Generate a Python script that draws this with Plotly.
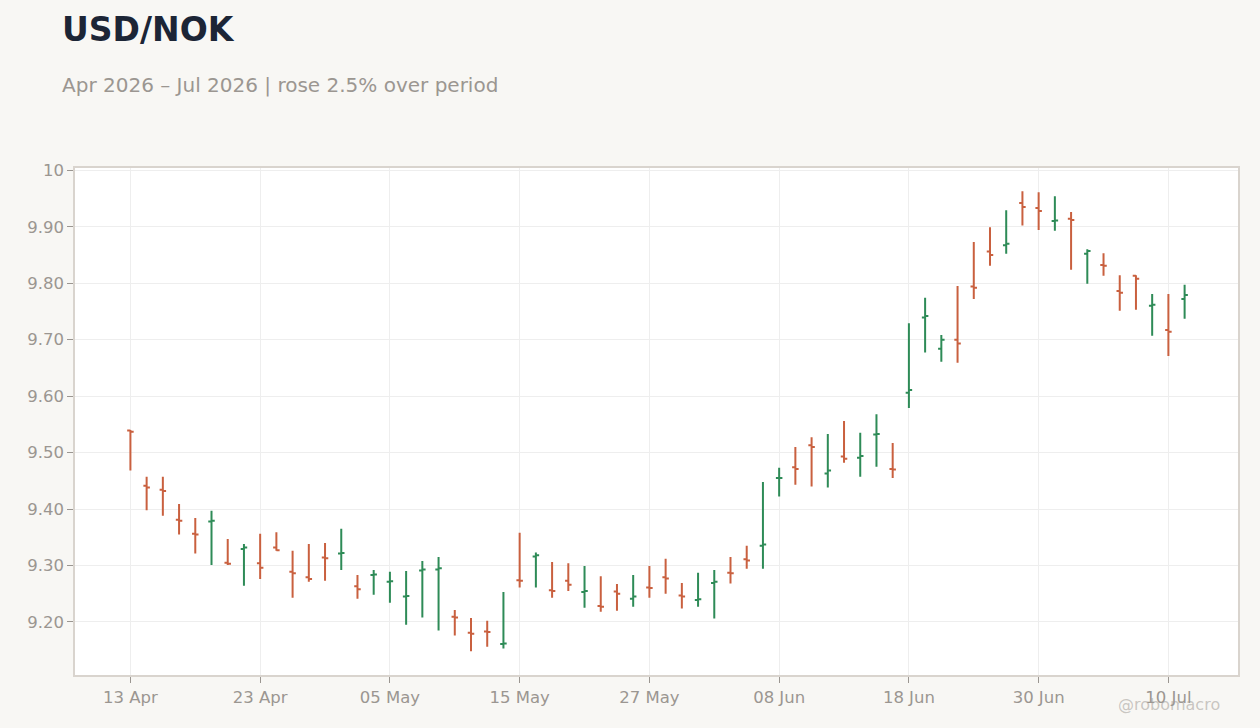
import plotly.graph_objects as go

# USD/NOK daily bars, business days only
dates = [
    "2026-04-13", "2026-04-14", "2026-04-15", "2026-04-16", "2026-04-17",
    "2026-04-20", "2026-04-21", "2026-04-22", "2026-04-23", "2026-04-24",
    "2026-04-27", "2026-04-28", "2026-04-29", "2026-04-30", "2026-05-01",
    "2026-05-04", "2026-05-05", "2026-05-06", "2026-05-07", "2026-05-08",
    "2026-05-11", "2026-05-12", "2026-05-13", "2026-05-14", "2026-05-15",
    "2026-05-18", "2026-05-19", "2026-05-20", "2026-05-21", "2026-05-22",
    "2026-05-25", "2026-05-26", "2026-05-27", "2026-05-28", "2026-05-29",
    "2026-06-01", "2026-06-02", "2026-06-03", "2026-06-04", "2026-06-05",
    "2026-06-08", "2026-06-09", "2026-06-10", "2026-06-11", "2026-06-12",
    "2026-06-15", "2026-06-16", "2026-06-17", "2026-06-18", "2026-06-19",
    "2026-06-22", "2026-06-23", "2026-06-24", "2026-06-25", "2026-06-26",
    "2026-06-29", "2026-06-30", "2026-07-01", "2026-07-02", "2026-07-03",
    "2026-07-06", "2026-07-07", "2026-07-08", "2026-07-09", "2026-07-10",
    "2026-07-13",
]

open_ = [
    9.539, 9.441, 9.434, 9.381, 9.356,
    9.378, 9.305, 9.329, 9.304, 9.332,
    9.289, 9.279, 9.314, 9.321, 9.263,
    9.283, 9.271, 9.245, 9.291, 9.293,
    9.209, 9.181, 9.183, 9.161, 9.274,
    9.316, 9.256, 9.273, 9.253, 9.228,
    9.254, 9.241, 9.261, 9.279, 9.247,
    9.239, 9.269, 9.287, 9.311, 9.335,
    9.455, 9.474, 9.513, 9.463, 9.493,
    9.491, 9.532, 9.471, 9.606, 9.739,
    9.684, 9.700, 9.794, 9.856, 9.867,
    9.942, 9.933, 9.910, 9.914, 9.852,
    9.832, 9.786, 9.813, 9.760, 9.717,
    9.772,
]
high = [
    9.540, 9.457, 9.457, 9.409, 9.384,
    9.397, 9.347, 9.338, 9.356, 9.359,
    9.326, 9.338, 9.340, 9.365, 9.283,
    9.292, 9.289, 9.290, 9.308, 9.315,
    9.221, 9.207, 9.202, 9.253, 9.358,
    9.323, 9.306, 9.304, 9.299, 9.281,
    9.267, 9.283, 9.299, 9.312, 9.269,
    9.287, 9.292, 9.315, 9.335, 9.448,
    9.473, 9.510, 9.527, 9.533, 9.556,
    9.535, 9.568, 9.517, 9.729, 9.774,
    9.708, 9.795, 9.873, 9.899, 9.929,
    9.963, 9.961, 9.954, 9.926, 9.860,
    9.853, 9.814, 9.814, 9.781, 9.781,
    9.797,
]
low = [
    9.468, 9.398, 9.388, 9.355, 9.321,
    9.301, 9.301, 9.264, 9.276, 9.326,
    9.243, 9.271, 9.273, 9.292, 9.241,
    9.248, 9.234, 9.195, 9.208, 9.185,
    9.176, 9.148, 9.156, 9.153, 9.261,
    9.261, 9.243, 9.255, 9.225, 9.218,
    9.220, 9.227, 9.243, 9.250, 9.224,
    9.227, 9.206, 9.268, 9.294, 9.294,
    9.422, 9.443, 9.440, 9.438, 9.482,
    9.457, 9.475, 9.455, 9.579, 9.677,
    9.661, 9.659, 9.772, 9.831, 9.852,
    9.902, 9.894, 9.893, 9.824, 9.799,
    9.813, 9.751, 9.753, 9.707, 9.671,
    9.737,
]
close = [
    9.537, 9.438, 9.432, 9.379, 9.355,
    9.379, 9.303, 9.332, 9.296, 9.327,
    9.286, 9.276, 9.313, 9.322, 9.258,
    9.284, 9.272, 9.246, 9.293, 9.295,
    9.208, 9.179, 9.182, 9.162, 9.273,
    9.318, 9.255, 9.266, 9.255, 9.227,
    9.250, 9.245, 9.260, 9.277, 9.245,
    9.240, 9.271, 9.286, 9.309, 9.337,
    9.455, 9.471, 9.510, 9.468, 9.489,
    9.494, 9.533, 9.470, 9.611, 9.742,
    9.700, 9.693, 9.792, 9.850, 9.870,
    9.935, 9.928, 9.911, 9.912, 9.857,
    9.831, 9.783, 9.808, 9.762, 9.714,
    9.779,
]

y_ticks = [9.2, 9.3, 9.4, 9.5, 9.6, 9.7, 9.8, 9.9, 10.0]
y_tick_text = ["9.20", "9.30", "9.40", "9.50", "9.60", "9.70", "9.80", "9.90", "10"]
x_ticks = [
    "2026-04-13", "2026-04-23", "2026-05-05", "2026-05-15", "2026-05-27",
    "2026-06-08", "2026-06-18", "2026-06-30", "2026-07-10",
]

UP_COLOR = "#2e8b57"
DOWN_COLOR = "#c9603f"
MUTED = "#9b9691"
FONT = "DejaVu Sans"

fig = go.Figure(
    go.Ohlc(
        x=dates,
        open=open_,
        high=high,
        low=low,
        close=close,
        increasing=dict(line=dict(color=UP_COLOR, width=2)),
        decreasing=dict(line=dict(color=DOWN_COLOR, width=2)),
        tickwidth=0.2,
        showlegend=False,
    )
)

fig.update_layout(
    width=1260,
    height=728,
    margin=dict(l=75, r=22, t=168, b=53),
    paper_bgcolor="#f8f7f4",
    plot_bgcolor="#ffffff",
    font=dict(family=FONT, color=MUTED, size=16),
    annotations=[
        dict(
            text="<b>USD/NOK</b>",
            xref="paper", yref="paper",
            x=-0.013, y=1.274,
            xanchor="left", yanchor="middle",
            showarrow=False,
            font=dict(family=FONT, size=33, color="#1c2536"),
        ),
        dict(
            text="Apr 2026 – Jul 2026 | rose 2.5% over period",
            xref="paper", yref="paper",
            x=-0.013, y=1.1637,
            xanchor="left", yanchor="middle",
            showarrow=False,
            font=dict(family=FONT, size=20, color=MUTED),
        ),
        dict(
            text="@robomacro",
            xref="paper", yref="paper",
            x=0.986, y=-0.059,
            xanchor="right", yanchor="middle",
            showarrow=False,
            font=dict(family=FONT, size=16, color="rgba(160,155,150,0.55)"),
        ),
    ],
)

fig.update_xaxes(
    type="date",
    rangeslider=dict(visible=False),
    rangebreaks=[dict(bounds=["sat", "mon"])],
    range=["2026-04-07 14:00", "2026-07-16 07:00"],
    tickmode="array",
    tickvals=x_ticks,
    tickformat="%d %b",
    tickfont=dict(size=16.5, color=MUTED),
    ticks="outside",
    ticklen=6,
    tickcolor=MUTED,
    showgrid=True,
    gridcolor="#eeeeee",
    showline=True,
    linecolor="#d9d4ce",
    linewidth=1.5,
    mirror=True,
    zeroline=False,
)
fig.update_yaxes(
    range=[9.106, 10.004],
    tickmode="array",
    tickvals=y_ticks,
    ticktext=y_tick_text,
    tickfont=dict(size=16.5, color=MUTED),
    ticks="outside",
    ticklen=6,
    tickcolor=MUTED,
    showgrid=True,
    gridcolor="#eeeeee",
    showline=True,
    linecolor="#d9d4ce",
    linewidth=1.5,
    mirror=True,
    zeroline=False,
)

fig.write_html(
    "out.html",
    config={"displayModeBar": False},
    post_script="document.body.style.margin='0';",
)
